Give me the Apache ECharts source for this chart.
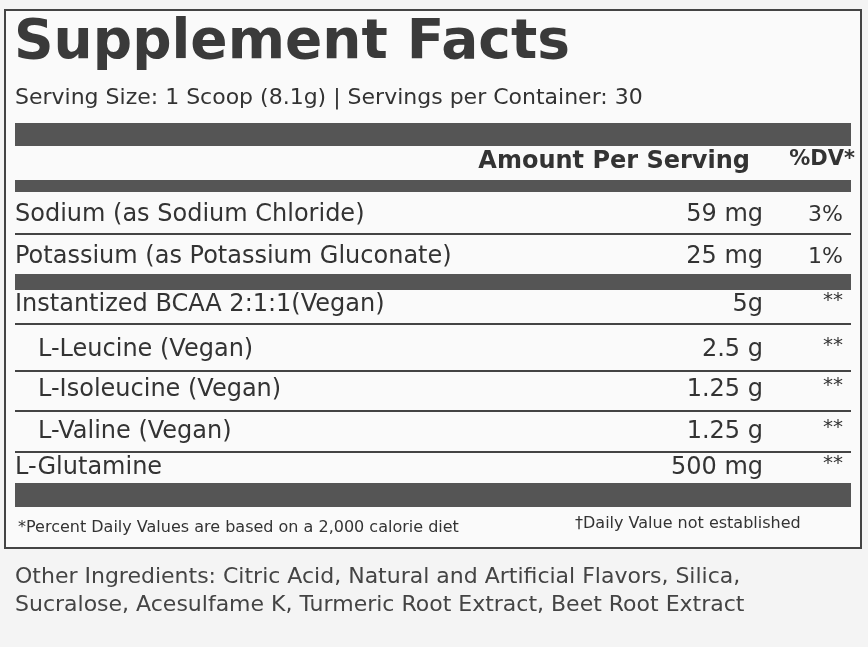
<!DOCTYPE html>
<html><head><meta charset="utf-8">
<script src="https://cdn.jsdelivr.net/npm/echarts@6/dist/echarts.min.js"></script>
<style>html,body{margin:0;padding:0;background:#f4f4f4}#c{width:868px;height:647px}</style>
</head><body><div id="c"></div>
<script>
const title = "Supplement Facts";
const servingText = "Serving Size: 1 Scoop (8.1g) | Servings per Container: 30";
const headerAmount = "Amount Per Serving";
const headerDV = "%DV*";
const nutrients = ["Sodium (as Sodium Chloride)", "Potassium (as Potassium Gluconate)", "Instantized BCAA 2:1:1(Vegan)", "L-Leucine (Vegan)", "L-Isoleucine (Vegan)", "L-Valine (Vegan)", "L-Glutamine"];
const amounts = ["59 mg", "25 mg", "5g", "2.5 g", "1.25 g", "1.25 g", "500 mg"];
const dvs = ["3%", "1%", "**", "**", "**", "**", "**"];
const indented = [false, false, false, true, true, true, false];
const footLeft = "*Percent Daily Values are based on a 2,000 calorie diet";
const footRight = "†Daily Value not established";
const otherLines = ["Other Ingredients: Citric Acid, Natural and Artificial Flavors, Silica,", "Sucralose, Acesulfame K, Turmeric Root Extract, Beet Root Extract"];

const rowY = [215, 257, 305, 350, 390, 432, 468];
const lineAfter = [{y:233,h:2},{y:274,h:16},{y:323,h:2},{y:370,h:2},{y:410,h:2},{y:451,h:2},{y:483,h:24}];
const F = "DejaVu Sans, sans-serif";
const C = "#333";
const g = [];
g.push({type:'rect',shape:{x:5,y:10,width:856,height:538},style:{fill:'#fafafa',stroke:'#444',lineWidth:2}});
g.push({type:'text',x:14,y:16,style:{text:title,font:'bold 55px '+F,fill:'#3a3a3a'}});
g.push({type:'text',x:15,y:87,style:{text:servingText,font:'22px '+F,fill:C}});
g.push({type:'rect',shape:{x:15,y:123,width:836,height:23},style:{fill:'#555'}});
g.push({type:'text',x:750,y:162,style:{text:headerAmount,font:'bold 24px '+F,fill:C,align:'right',verticalAlign:'middle'}});
g.push({type:'text',x:855,y:160,style:{text:headerDV,font:'bold 21px '+F,fill:C,align:'right',verticalAlign:'middle'}});
g.push({type:'rect',shape:{x:15,y:180,width:836,height:12},style:{fill:'#555'}});
nutrients.forEach((n,i)=>{
  g.push({type:'text',x:indented[i]?38:15,y:rowY[i],style:{text:n,font:'24px '+F,fill:C,verticalAlign:'middle'}});
  g.push({type:'text',x:763,y:rowY[i],style:{text:amounts[i],font:'24px '+F,fill:C,align:'right',verticalAlign:'middle'}});
  const star = dvs[i]==="**";
  g.push({type:'text',x:843,y:star?rowY[i]-4:rowY[i],style:{text:dvs[i],font:(star?'20px ':'22px ')+F,fill:C,align:'right',verticalAlign:'middle'}});
  const L=lineAfter[i];
  g.push({type:'rect',shape:{x:15,y:L.y,width:836,height:L.h},style:{fill:L.h>2?'#555':'#444'}});
});
g.push({type:'text',x:18,y:528,style:{text:footLeft,font:'16px '+F,fill:C,verticalAlign:'middle'}});
g.push({type:'text',x:575,y:524,style:{text:footRight,font:'16px '+F,fill:C,verticalAlign:'middle'}});
otherLines.forEach((t,i)=>g.push({type:'text',x:15,y:577+i*28,style:{text:t,font:'22px '+F,fill:'#444',verticalAlign:'middle'}}));
const chart = echarts.init(document.getElementById('c'));
chart.setOption({backgroundColor:'#f4f4f4',animation:false,graphic:g});
</script></body></html>
